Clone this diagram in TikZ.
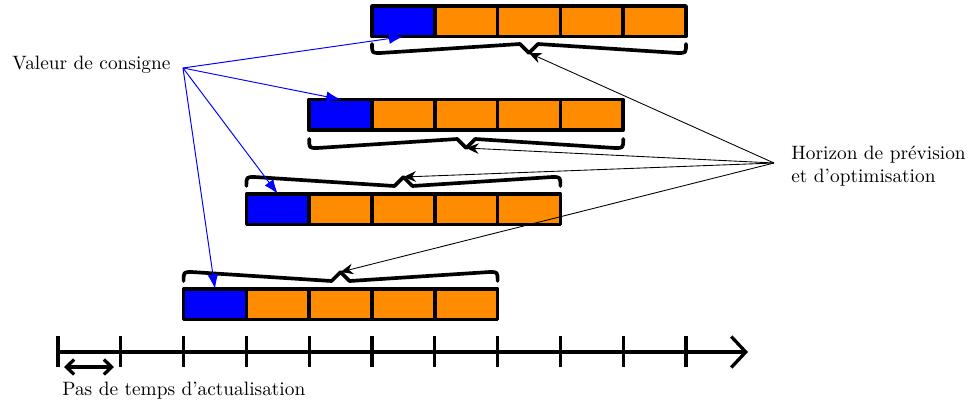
\documentclass[tikz,border=0pt]{standalone}
\usepackage{fontspec}
\usetikzlibrary{arrows.meta}
\definecolor{cblue}{RGB}{0,0,255}
\definecolor{corange}{RGB}{255,140,0}
\begin{document}
\begin{tikzpicture}[x=0.517pt,y=-0.517pt,
  cell/.style={draw=black,line width=1.9pt,minimum width=32.47pt,minimum height=15.8pt,inner sep=0pt,outer sep=0pt,anchor=north west,line join=round},
  bluecell/.style={cell,fill=cblue},
  orangecell/.style={cell,fill=corange},
  bracepath/.style={line width=1.9pt,line join=round,line cap=round},
  bluearrow/.style={draw=cblue,line width=0.5pt,-{Latex[length=7.5pt,width=5.5pt]}},
  blackarrow/.style={draw=black,line width=0.45pt,-{Stealth[length=6.5pt,width=5.5pt]}},
  ticksty/.style={line width=1.7pt},
  axissty/.style={line width=1.7pt,-{Straight Barb[length=7.5pt,width=16pt]}},
  steparrow/.style={line width=1.7pt,{Straight Barb[length=4pt,width=7.7pt]}-{Straight Barb[length=4pt,width=7.7pt]}},
  lbl/.style={inner sep=0pt}]
\useasboundingbox (0,0) rectangle (971,404);

% blocks
\foreach \i/\ty in {1/289,2/194,3/99.5,4/6} {
  \node[bluecell] (b\i-c1) at ({58+62.8*(\i+1)},\ty) {};
  \foreach \j in {2,...,5}
    \node[orangecell] (b\i-c\j) at ({58+62.8*(\i+\j)},\ty) {};
}

% braces
\foreach \i/\yn/\yf in {1/281/272,2/186/177,3/139/148,4/44/53} {
  \pgfmathsetmacro\xa{58+62.8*(\i+1)}
  \pgfmathsetmacro\xb{\xa+314}
  \pgfmathsetmacro\xc{\xa+157}
  \coordinate (t\i) at (\xc,\yf);
  \draw[bracepath] (\xa,\yn) .. controls (\xa,\yf) .. (\xa+8,\yf) -- (\xc-9,\yn) -- (t\i) -- (\xc+9,\yn) -- (\xb-8,\yf) .. controls (\xb,\yf) .. (\xb,\yn);
}

% labels
\node[lbl,anchor=base west] (vl) at (12,69) {Valeur de consigne};
\node[lbl,anchor=west,align=left] (hl) at (791,166) {Horizon de prévision\\et d'optimisation};
\node[lbl,anchor=base west] (pl) at (62,395) {Pas de temps d'actualisation};

\coordinate (vc) at (183,68);
\coordinate (hz) at (774,163);

% blue arrows
\draw[bluearrow] (vc) -- (b4-c1.south);
\draw[bluearrow] (vc) -- (b3-c1.north);
\draw[bluearrow] (vc) -- (b2-c1.north);
\draw[bluearrow] (vc) -- (b1-c1.north);

% black arrows
\draw[blackarrow] (hz) -- (t4);
\draw[blackarrow] (hz) -- (t3);
\draw[blackarrow] (hz) -- (t2);
\draw[blackarrow] (hz) -- (t1);

% time axis
\coordinate (a0) at (58,352);
\coordinate (a1) at (748,352);
\draw[axissty] (a0) -- (a1);
\foreach \k in {0,...,10}
  \draw[ticksty] ({58+62.8*\k},336) -- ({58+62.8*\k},367);

\coordinate (d0) at (64,367);
\coordinate (d1) at (114,367);
\draw[steparrow] (d0) -- (d1);
\end{tikzpicture}
\end{document}
